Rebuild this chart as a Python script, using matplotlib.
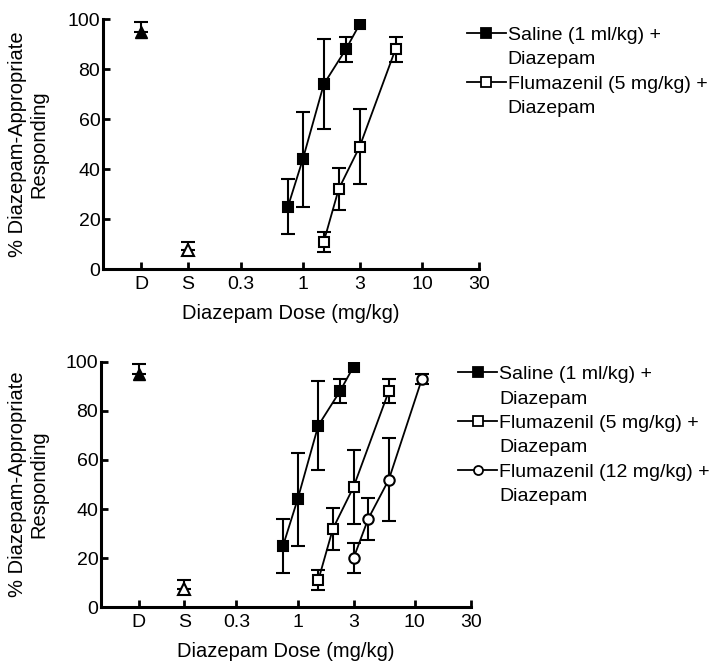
import matplotlib
matplotlib.use("Agg")
import matplotlib.pyplot as plt
from matplotlib.lines import Line2D
import numpy as np

plt.rcParams['font.family'] = ['Liberation Sans', 'DejaVu Sans']
plt.rcParams['font.size'] = 14

# control points (drawn at arbitrary positions left of the dose range)
ctrl_x = [0.044, 0.108]
ctrl_labels = ['D', 'S']
d_y, d_err = 95, 4
s_y, s_err = 7.5, 3.5

saline_x = [0.75, 1.0, 1.5, 2.3, 3.0]
saline_y = [25, 44, 74, 88, 98]
saline_err = [11, 19, 18, 5, np.nan]  # last one hidden by the marker

flu5_x = [1.5, 2.0, 3.0, 6.0]
flu5_y = [11, 32, 49, 88]
flu5_err = [4, 8.5, 15, 5]

flu12_x = [3.0, 4.0, 6.0, 11.5]
flu12_y = [20, 36, 52, 93]
flu12_err = [6, 8.5, 17, 2]

tick_pos = ctrl_x + [0.3, 1, 3, 10, 30]
tick_labels = ctrl_labels + ['0.3', '1', '3', '10', '30']

ebkw = dict(ecolor='black', elinewidth=1.5, capsize=5, capthick=1.5)


def series(ax, x, y, err, marker, face):
    ax.errorbar(x, y, yerr=err, fmt='none', zorder=2, **ebkw)
    ax.plot(x, y, color='black', lw=1.3, marker=marker, ms=7.5,
            mfc=face, mec='black', mew=1.5, zorder=3)


def setup(ax, ylab_x):
    ax.set_xscale('log')
    ax.set_xlim(0.021, 30)
    ax.set_ylim(0, 100)
    ax.set_xticks(tick_pos)
    ax.set_xticklabels(tick_labels)
    ax.minorticks_off()
    ax.set_yticks([0, 20, 40, 60, 80, 100])
    for s in ['top', 'right']:
        ax.spines[s].set_visible(False)
    for s in ['left', 'bottom']:
        ax.spines[s].set_linewidth(2.2)
    ax.tick_params(direction='in', length=5, width=2.0, labelsize=14)
    ax.tick_params(axis='x', pad=5)
    ax.tick_params(axis='y', pad=2)
    ax.set_xlabel('Diazepam Dose (mg/kg)', fontsize=14.5, labelpad=8)
    ax.set_ylabel('% Diazepam-Appropriate\nResponding', fontsize=14.5,
                  linespacing=1.15)
    ax.yaxis.set_label_coords(ylab_x, 0.5)
    # control points, upper error only visible
    ax.errorbar([ctrl_x[0]], [d_y], yerr=[[0], [d_err]], fmt='^', color='black',
                ms=9, mfc='black', mec='black', **ebkw)
    ax.errorbar([ctrl_x[1]], [s_y], yerr=[[0], [s_err]], fmt='^', color='black',
                ms=9, mfc='white', mec='black', mew=1.5, **ebkw)


def leg_handle(marker, face):
    return Line2D([], [], color='black', lw=1.3, marker=marker, ms=6.5,
                  mfc=face, mec='black', mew=1.3)


blank = Line2D([], [], linestyle='none', marker='none')

fig = plt.figure(figsize=(7.13, 6.61), dpi=100)
ax1 = fig.add_axes([0.1445, 0.593, 0.527, 0.378])
ax2 = fig.add_axes([0.1417, 0.0812, 0.5185, 0.3716])

setup(ax1, -0.145)
setup(ax2, -0.143)
for ax in (ax1, ax2):
    series(ax, saline_x, saline_y, saline_err, 's', 'black')
    series(ax, flu5_x, flu5_y, flu5_err, 's', 'white')
series(ax2, flu12_x, flu12_y, flu12_err, 'o', 'white')

h_sal = leg_handle('s', 'black')
h_f5 = leg_handle('s', 'white')
h_f12 = leg_handle('o', 'white')

leg_kw = dict(frameon=False, loc='upper left', fontsize=14, handlelength=2.0,
              handletextpad=0.1, labelspacing=0.35, borderaxespad=0,
              borderpad=0, bbox_transform=fig.transFigure)
fig.legend([h_sal, blank, h_f5, blank],
           ['Saline (1 ml/kg) +', 'Diazepam', 'Flumazenil (5 mg/kg) +', 'Diazepam'],
           bbox_to_anchor=(0.655, 0.960), **leg_kw)
fig.legend([h_sal, blank, h_f5, blank, h_f12, blank],
           ['Saline (1 ml/kg) +', 'Diazepam', 'Flumazenil (5 mg/kg) +', 'Diazepam',
            'Flumazenil (12 mg/kg) +', 'Diazepam'],
           bbox_to_anchor=(0.643, 0.447), **leg_kw)

fig.savefig('out.png', dpi=100)
